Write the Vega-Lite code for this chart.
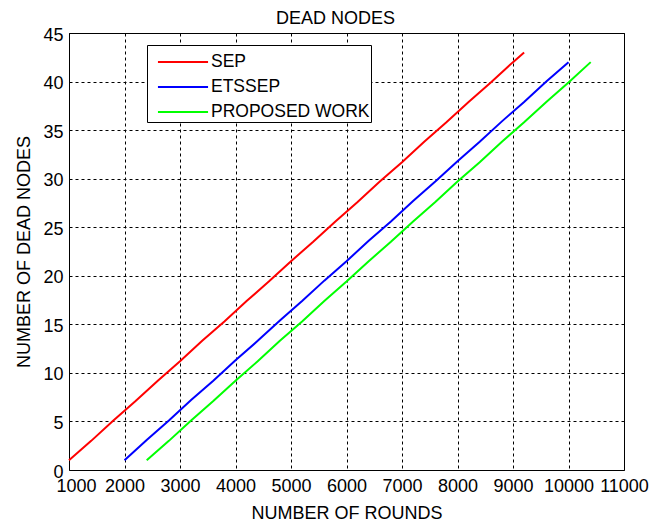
{
  "$schema": "https://vega.github.io/schema/vega-lite/v6.json",
  "autosize": "none",
  "width": 555,
  "height": 437,
  "padding": {"left": 69, "top": 33, "right": 42, "bottom": 57},
  "background": "white",
  "title": {"text": "DEAD NODES", "font": "Liberation Sans", "fontSize": 18, "fontWeight": "normal", "color": "#000000", "offset": -2, "dx": -11},
  "config": {
    "view": {"stroke": "#000000", "strokeWidth": 1},
    "font": "Liberation Sans"
  },
  "data": {"values": [
    {"rounds": 1000, "dead": 1.0, "series": "SEP"},
    {"rounds": 1400, "dead": 3.0, "series": "SEP"},
    {"rounds": 1800, "dead": 5.1, "series": "SEP"},
    {"rounds": 2200, "dead": 7.1, "series": "SEP"},
    {"rounds": 2600, "dead": 9.2, "series": "SEP"},
    {"rounds": 3000, "dead": 11.2, "series": "SEP"},
    {"rounds": 3400, "dead": 13.3, "series": "SEP"},
    {"rounds": 3800, "dead": 15.3, "series": "SEP"},
    {"rounds": 4200, "dead": 17.4, "series": "SEP"},
    {"rounds": 4600, "dead": 19.4, "series": "SEP"},
    {"rounds": 5000, "dead": 21.5, "series": "SEP"},
    {"rounds": 5400, "dead": 23.5, "series": "SEP"},
    {"rounds": 5800, "dead": 25.6, "series": "SEP"},
    {"rounds": 6200, "dead": 27.6, "series": "SEP"},
    {"rounds": 6600, "dead": 29.7, "series": "SEP"},
    {"rounds": 7000, "dead": 31.7, "series": "SEP"},
    {"rounds": 7400, "dead": 33.8, "series": "SEP"},
    {"rounds": 7800, "dead": 35.8, "series": "SEP"},
    {"rounds": 8200, "dead": 37.9, "series": "SEP"},
    {"rounds": 8600, "dead": 39.9, "series": "SEP"},
    {"rounds": 9000, "dead": 42.0, "series": "SEP"},
    {"rounds": 9200, "dead": 43.0, "series": "SEP"},
    {"rounds": 2000, "dead": 1.0, "series": "ETSSEP"},
    {"rounds": 2400, "dead": 3.1, "series": "ETSSEP"},
    {"rounds": 2800, "dead": 5.1, "series": "ETSSEP"},
    {"rounds": 3200, "dead": 7.2, "series": "ETSSEP"},
    {"rounds": 3600, "dead": 9.2, "series": "ETSSEP"},
    {"rounds": 4000, "dead": 11.3, "series": "ETSSEP"},
    {"rounds": 4400, "dead": 13.3, "series": "ETSSEP"},
    {"rounds": 4800, "dead": 15.4, "series": "ETSSEP"},
    {"rounds": 5200, "dead": 17.4, "series": "ETSSEP"},
    {"rounds": 5600, "dead": 19.5, "series": "ETSSEP"},
    {"rounds": 6000, "dead": 21.5, "series": "ETSSEP"},
    {"rounds": 6400, "dead": 23.6, "series": "ETSSEP"},
    {"rounds": 6800, "dead": 25.6, "series": "ETSSEP"},
    {"rounds": 7200, "dead": 27.7, "series": "ETSSEP"},
    {"rounds": 7600, "dead": 29.7, "series": "ETSSEP"},
    {"rounds": 8000, "dead": 31.8, "series": "ETSSEP"},
    {"rounds": 8400, "dead": 33.8, "series": "ETSSEP"},
    {"rounds": 8800, "dead": 35.9, "series": "ETSSEP"},
    {"rounds": 9200, "dead": 37.9, "series": "ETSSEP"},
    {"rounds": 9600, "dead": 40.0, "series": "ETSSEP"},
    {"rounds": 10000, "dead": 42.0, "series": "ETSSEP"},
    {"rounds": 2400, "dead": 1.0, "series": "PROPOSED WORK"},
    {"rounds": 2800, "dead": 3.0, "series": "PROPOSED WORK"},
    {"rounds": 3200, "dead": 5.1, "series": "PROPOSED WORK"},
    {"rounds": 3600, "dead": 7.1, "series": "PROPOSED WORK"},
    {"rounds": 4000, "dead": 9.2, "series": "PROPOSED WORK"},
    {"rounds": 4400, "dead": 11.2, "series": "PROPOSED WORK"},
    {"rounds": 4800, "dead": 13.3, "series": "PROPOSED WORK"},
    {"rounds": 5200, "dead": 15.3, "series": "PROPOSED WORK"},
    {"rounds": 5600, "dead": 17.4, "series": "PROPOSED WORK"},
    {"rounds": 6000, "dead": 19.4, "series": "PROPOSED WORK"},
    {"rounds": 6400, "dead": 21.5, "series": "PROPOSED WORK"},
    {"rounds": 6800, "dead": 23.5, "series": "PROPOSED WORK"},
    {"rounds": 7200, "dead": 25.6, "series": "PROPOSED WORK"},
    {"rounds": 7600, "dead": 27.6, "series": "PROPOSED WORK"},
    {"rounds": 8000, "dead": 29.7, "series": "PROPOSED WORK"},
    {"rounds": 8400, "dead": 31.7, "series": "PROPOSED WORK"},
    {"rounds": 8800, "dead": 33.8, "series": "PROPOSED WORK"},
    {"rounds": 9200, "dead": 35.8, "series": "PROPOSED WORK"},
    {"rounds": 9600, "dead": 37.9, "series": "PROPOSED WORK"},
    {"rounds": 10000, "dead": 39.9, "series": "PROPOSED WORK"},
    {"rounds": 10400, "dead": 42.0, "series": "PROPOSED WORK"}
  ]},
  "mark": {"type": "line", "strokeWidth": 2, "interpolate": "linear"},
  "encoding": {
    "x": {
      "field": "rounds", "type": "quantitative",
      "scale": {"domain": [1000, 11000], "nice": false, "zero": false},
      "axis": {
        "title": "NUMBER OF ROUNDS", "values": [1000,2000,3000,4000,5000,6000,7000,8000,9000,10000,11000],
        "format": "d", "grid": true, "gridDash": [3, 3], "gridColor": "#000000", "gridOpacity": 1, "gridWidth": 1,
        "domain": false, "ticks": false, "labelPadding": 7,
        "labelFont": "Liberation Sans", "labelFontSize": 18, "labelColor": "#000000",
        "labelFlush": false, "labelOverlap": false,
        "labelOffset": {"condition": {"test": "datum.value == 1000", "value": 7}, "value": 0},
        "titleFont": "Liberation Sans", "titleFontSize": 18, "titleFontWeight": "normal", "titleColor": "#000000", "titlePadding": 9
      }
    },
    "y": {
      "field": "dead", "type": "quantitative",
      "scale": {"domain": [0, 45], "nice": false},
      "axis": {
        "title": "NUMBER OF DEAD NODES", "values": [0,5,10,15,20,25,30,35,40,45],
        "grid": true, "gridDash": [3, 3], "gridColor": "#000000", "gridOpacity": 1, "gridWidth": 1,
        "domain": false, "ticks": false, "labelPadding": 6, "labelOffset": 2,
        "labelFont": "Liberation Sans", "labelFontSize": 18, "labelColor": "#000000",
        "labelFlush": false, "labelOverlap": false,
        "titleFont": "Liberation Sans", "titleFontSize": 18, "titleFontWeight": "normal", "titleColor": "#000000", "titlePadding": 9
      }
    },
    "color": {
      "field": "series", "type": "nominal",
      "scale": {"domain": ["SEP", "ETSSEP", "PROPOSED WORK"], "range": ["#ff0000", "#0000ff", "#00ff00"]},
      "legend": {
        "title": null, "orient": "none", "legendX": 78, "legendY": 12,
        "symbolType": "M-1.67,0H1.67", "symbolStrokeWidth": 2, "symbolSize": 900, "symbolFillColor": "transparent",
        "symbolOffset": 19,
        "labelFont": "Liberation Sans", "labelFontSize": 17.5, "labelColor": "#000000",
        "labelOffset": 12, "rowPadding": 0, "padding": 1,
        "strokeColor": "#000000", "fillColor": "#ffffff", "labelLimit": 300
      }
    }
  }
}
